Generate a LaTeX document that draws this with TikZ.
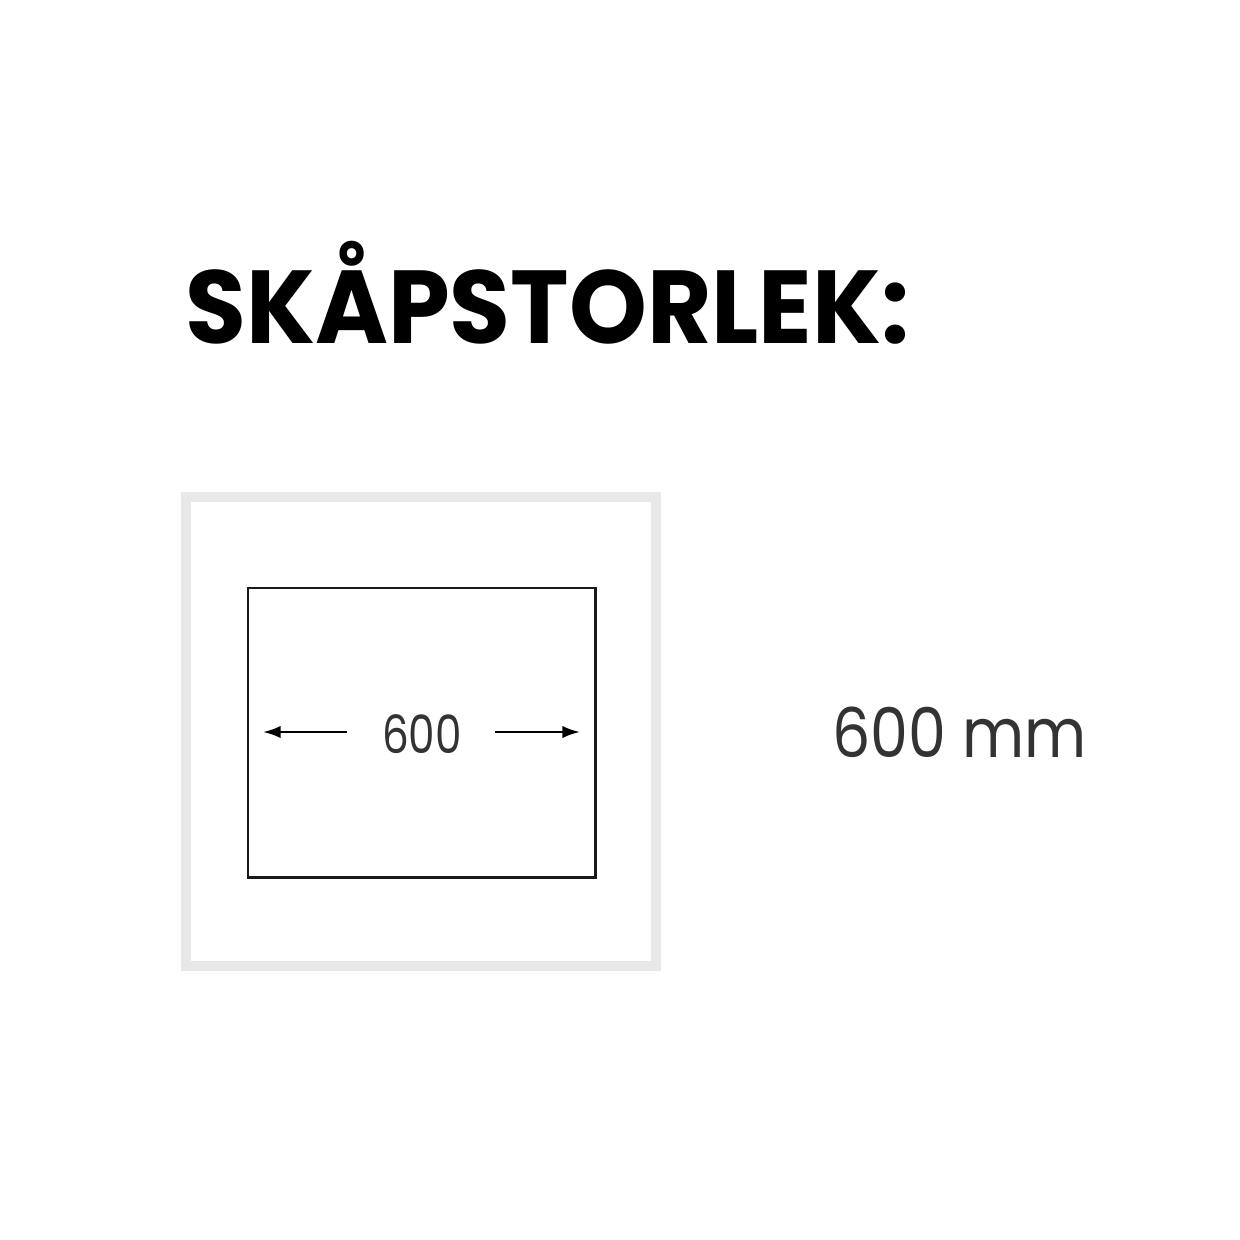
\documentclass[tikz,border=0pt]{standalone}
\usepackage{fontspec}
\setmainfont{Poppins}
\usetikzlibrary{arrows.meta}
\begin{document}
\begin{tikzpicture}[x=0.02cm,y=-0.02cm,
  outerframe/.style={draw=black!9,line width=11*0.567pt},
  innerbox/.style={draw=black!90,line width=3*0.567pt},
  dimarrow/.style={draw=black,line width=2.4*0.567pt,-{Latex[length=10pt,width=7pt]}},
  titletext/.style={anchor=base west,inner sep=0pt,font=\fontsize{59}{60}\selectfont\bfseries},
  dimtext/.style={anchor=base,inner sep=0pt,text=black!80,font=\fontsize{30}{32}\selectfont},
  sizetext/.style={anchor=base west,inner sep=0pt,text=black!80,font=\fontsize{39}{40}\selectfont}]
\useasboundingbox[fill=white] (0,0) rectangle (1240,1240);
\node[titletext] (title) at (185,343) {\scalebox{0.955}[1]{SKÅPSTORLEK:}};
\draw[outerframe] (186,497) rectangle (656,966);
\draw[innerbox] (248,588) rectangle (595,877);
\node[dimtext] (dim) at (422,753) {\scalebox{0.8}[1]{600}};
\coordinate (la) at (347,732);
\coordinate (lt) at (263,732);
\coordinate (ra) at (495,732);
\coordinate (rt) at (580,732);
\draw[dimarrow] (la) -- (lt);
\draw[dimarrow] (ra) -- (rt);
\node[sizetext] (size) at (832,757) {\scalebox{0.88}[1]{600 mm}};
\end{tikzpicture}
\end{document}
